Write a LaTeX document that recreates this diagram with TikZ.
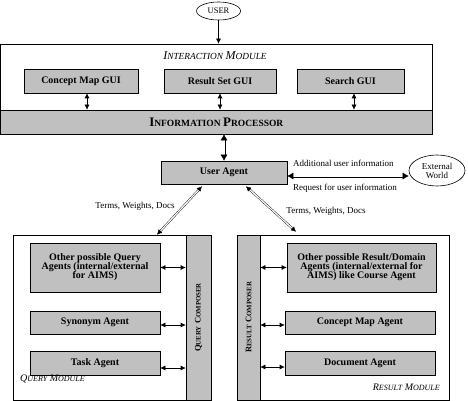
\documentclass[tikz,border=0pt]{standalone}
\usepackage{fontspec}
\setmainfont{Liberation Serif}
\usetikzlibrary{shapes.geometric,arrows.meta}
\definecolor{boxgray}{RGB}{192,192,192}
\newcommand{\fsz}[1]{\fontsize{#1}{#1}\selectfont}
\tikzset{
  gbox/.style={draw=black, line width=0.6pt, fill=boxgray, inner sep=1pt, align=center, font=\bfseries\fsz{10}},
  wbox/.style={draw=black, line width=0.6pt, fill=white, inner sep=0pt},
  oval/.style={draw=black, line width=0.6pt, ellipse, inner sep=0pt, align=center, font=\fsz{9}},
  arr/.style={line width=0.6pt, {Latex[length=5pt,width=5pt]}-{Latex[length=5pt,width=5pt]}},
  darr/.style={line width=0.5pt, double, double distance=2pt, {Latex[length=6pt,width=7pt]}-{Latex[length=6pt,width=7pt]}},
  tarr/.style={line width=0.4pt, double, double distance=1.2pt, {Latex[length=5pt,width=5pt]}-{Latex[length=5pt,width=5pt]}},
  lbl/.style={font=\fsz{9}, inner sep=0pt},
}
\begin{document}
\begin{tikzpicture}[x=1pt,y=-1pt]
\useasboundingbox (0,0) rectangle (468,401);
% interaction module
\node[wbox, minimum width=431, minimum height=90] (im) at (216.3,89) {};
\node[gbox, minimum width=431, minimum height=24] (ip) at (216.3,122)
  {{\fsz{13}I}{\fsz{9.5}NFORMATION} {\fsz{13}P}{\fsz{9.5}ROCESSOR}};
\node[lbl, font=\itshape] (imt) at (215,56) {{\fsz{12}I}{\fsz{9.3}NTERACTION} {\fsz{12}M}{\fsz{9.3}ODULE}};
\node[gbox, minimum width=114, minimum height=24] (cmg) at (81,81) {Concept Map GUI};
\node[gbox, minimum width=112, minimum height=24] (rsg) at (220,81) {Result Set GUI};
\node[gbox, minimum width=107, minimum height=24] (sg) at (350.5,81) {Search GUI};
\draw[arr] ([xshift=6]cmg.south) -- ([xshift=6]cmg.south |- ip.north);
\draw[arr] (rsg.south) -- (rsg.south |- ip.north);
\draw[arr] ([xshift=3.5]sg.south) -- ([xshift=3.5]sg.south |- ip.north);
% user
\node[oval, minimum width=44, minimum height=18, font=\fsz{8.5}] (user) at (218.5,11) {USER};
\draw[line width=0.6pt, -{Latex[length=5pt,width=5pt]}] (user.south) -- (user.south |- im.north);
% user agent
\node[gbox, minimum width=126, minimum height=23] (ua) at (224,172.5) {User Agent};
\draw[darr] (ua.north) -- (ua.north |- ip.south);
\node[oval, minimum width=56, minimum height=31] (ew) at (437,170.5) {External\\World};
\draw[darr] ([yshift=-3.5]ua.east) -- ([yshift=-3.5]ua.east -| ew.west);
\node[lbl, anchor=west] (add) at (293,163) {Additional user information};
\node[lbl, anchor=west] (req) at (293,188) {Request for user information};
% query module
\node[wbox, minimum width=198, minimum height=165] (qm) at (112,317.5) {};
\node[gbox, minimum width=165, minimum height=25, rotate=90, font=\bfseries] (qc) at (198.5,317.5)
  {{\fsz{8.5}Q}{\fsz{6.8}UERY} {\fsz{8.5}C}{\fsz{6.8}OMPOSER}};
\node[gbox, minimum width=130, minimum height=49] (oq) at (95,267.5) {Other possible Query\\[-1pt]Agents (internal/external\\[-1pt]for AIMS)};
\node[gbox, minimum width=130, minimum height=23] (syn) at (95,322.5) {Synonym Agent};
\node[gbox, minimum width=130, minimum height=24] (task) at (95,363) {Task Agent};
\draw[arr] (oq.east) -- (oq.east -| qc.north);
\draw[arr] ([yshift=-2.5]syn.east) -- ([yshift=-2.5]syn.east -| qc.north);
\draw[arr] ([yshift=-5]task.east) -- ([yshift=-5]task.east -| qc.north);
\node[lbl, font=\itshape, anchor=west] (qmt) at (20,379) {{\fsz{10}Q}{\fsz{8}UERY} {\fsz{10}M}{\fsz{8}ODULE}};
% result module
\node[wbox, minimum width=212, minimum height=165] (rm) at (343,317.5) {};
\node[gbox, minimum width=165, minimum height=23, rotate=90, font=\bfseries] (rc) at (248.5,317.5)
  {{\fsz{8.5}R}{\fsz{6.8}ESULT} {\fsz{8.5}C}{\fsz{6.8}OMPOSER}};
\node[gbox, minimum width=149, minimum height=49] (orr) at (361.5,267.5) {Other possible Result/Domain\\[-1pt]Agents (internal/external for\\[-1pt]AIMS) like Course Agent};
\node[gbox, minimum width=150, minimum height=23] (cma) at (360,322.5) {Concept Map Agent};
\node[gbox, minimum width=150, minimum height=24] (doc) at (360,363) {Document Agent};
\draw[arr] (orr.west) -- (orr.west -| rc.south);
\draw[arr] ([yshift=-2.5]cma.west) -- ([yshift=-2.5]cma.west -| rc.south);
\draw[arr] ([yshift=-4]doc.west) -- ([yshift=-4]doc.west -| rc.south);
\node[lbl, font=\itshape, anchor=east] (rmt) at (440,387) {{\fsz{10}R}{\fsz{8}ESULT} {\fsz{10}M}{\fsz{8}ODULE}};
% diagonal links
\draw[tarr] ([xshift=-22,yshift=-2]ua.south) -- ([xshift=45]qm.north);
\draw[tarr] ([xshift=22,yshift=-2]ua.south) -- ([xshift=-47,yshift=3]rm.north);
\node[lbl] (tl) at (135,206) {Terms, Weights, Docs};
\node[lbl] (tr) at (326,211) {Terms, Weights, Docs};
\end{tikzpicture}
\end{document}
